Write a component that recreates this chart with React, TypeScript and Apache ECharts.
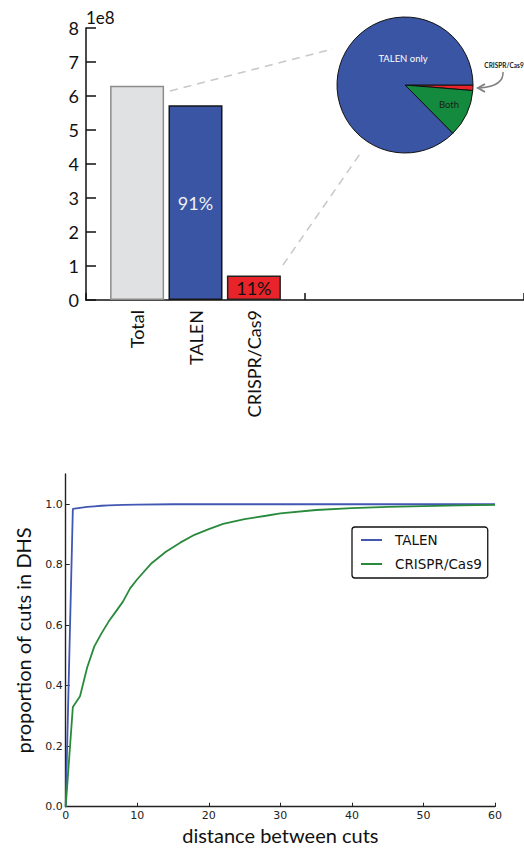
import React, { useEffect, useRef } from "react";
import * as echarts from "echarts";

// ---- top bar chart ----
const barCategories = ["Total", "TALEN", "CRISPR/Cas9"];
const barValues = [6.3e8, 5.73e8, 0.72e8];
const barLabels = ["", "91%", "11%"];
const barColors = ["#e0e1e3", "#3a55a4", "#e8242a"];
const barBorders = ["#8c8c8c", "#161616", "#222222"];
const barLabelColors = ["#111111", "#eef0f6", "#111111"];
const barSlots = [3, 7, 11];
const slotCount = 30;
const stubTickSlot = 15;

// ---- inset pie ----
const pieNames = ["CRISPR/Cas9 only", "Both", "TALEN only"];
const pieValues = [1.3, 11.3, 87.4];
const pieColors = ["#e8242a", "#138a3d", "#3a55a4"];

// ---- bottom cumulative curves ----
const talenX = [0, 1, 2, 3, 4, 5, 6, 8, 10, 15, 20, 30, 40, 50, 60];
const talenY = [0, 0.985, 0.988, 0.991, 0.993, 0.995, 0.996, 0.998, 0.999, 1, 1, 1, 1, 1, 1];
const casX = [0, 1, 2, 3, 4, 5, 6, 7, 8, 9, 10, 12, 14, 15, 16, 18, 20, 22, 25, 28, 30, 35, 40, 45, 50, 55, 60];
const casY = [0, 0.33, 0.365, 0.46, 0.53, 0.573, 0.612, 0.645, 0.678, 0.722, 0.752, 0.805, 0.843, 0.858, 0.873, 0.899, 0.918, 0.935, 0.951, 0.962, 0.97, 0.981, 0.987, 0.991, 0.994, 0.996, 0.998];

const MYRIAD = "Lato";
const MPL = "DejaVu Sans";

export default function App() {
  const ref = useRef<HTMLDivElement>(null);
  useEffect(() => {
    document.body.style.margin = "0";
    if (!ref.current) return;
    const chart = echarts.init(ref.current, undefined, { renderer: "svg" });

    const slotNames = Array.from({ length: slotCount }, (_, i) => "s" + i);
    const slotLabel: Record<string, string> = {};
    barSlots.forEach((s, i) => (slotLabel["s" + s] = barCategories[i]));
    const barData: any[] = Array.from({ length: slotCount }, () => null);
    barSlots.forEach((s, i) => {
      barData[s] = {
        value: barValues[i],
        itemStyle: { color: barColors[i], borderColor: barBorders[i], borderWidth: 1.5 },
        label: {
          show: barLabels[i] !== "",
          position: "inside",
          formatter: barLabels[i],
          fontSize: 18,
          fontFamily: MYRIAD,
          color: barLabelColors[i],
        },
      };
    });

    const option: any = {
      animation: false,
      grid: [
        { left: 86, top: 28, width: 14.875 * slotCount, height: 272 },
        { left: 65.7, top: 474, width: 429.3, height: 332.7 },
      ],
      xAxis: [
        {
          gridIndex: 0,
          type: "category",
          data: slotNames,
          boundaryGap: true,
          axisLine: { lineStyle: { color: "#111", width: 1.5 } },
          axisTick: {
            show: true,
            inside: true,
            length: 7,
            interval: (i: number) => i === 0 || i === stubTickSlot,
            lineStyle: { color: "#111", width: 1.5 },
          },
          axisLabel: {
            interval: 0,
            rotate: 90,
            margin: 10,
            fontSize: 18,
            fontFamily: MYRIAD,
            color: "#111",
            formatter: (v: string) => slotLabel[v] ?? "",
          },
          splitLine: { show: false },
        },
        {
          gridIndex: 1,
          type: "value",
          min: 0,
          max: 60,
          interval: 10,
          axisLine: { lineStyle: { color: "#222", width: 1.4 } },
          axisTick: { show: true, inside: true, length: 4, lineStyle: { color: "#222" } },
          axisLabel: { fontSize: 11, fontFamily: MPL, color: "#222", margin: 3 },
          splitLine: { show: false },
          name: "distance between cuts",
          nameLocation: "middle",
          nameGap: 18,
          nameTextStyle: { fontSize: 20, fontFamily: MYRIAD, color: "#111", verticalAlign: "top" },
        },
      ],
      yAxis: [
        {
          gridIndex: 0,
          type: "value",
          min: 0,
          max: 8e8,
          interval: 1e8,
          name: "1e8",
          nameLocation: "end",
          nameGap: 2,
          nameTextStyle: { align: "left", verticalAlign: "bottom", fontSize: 17, fontFamily: MYRIAD, color: "#111" },
          axisLine: { show: true, lineStyle: { color: "#111", width: 1.5 } },
          axisTick: { show: true, inside: true, length: 10, lineStyle: { color: "#111", width: 1.5 } },
          axisLabel: { fontSize: 18, fontFamily: MYRIAD, color: "#111", margin: 7, formatter: (v: number) => String(Math.round(v / 1e8)) },
          splitLine: { show: false },
        },
        {
          gridIndex: 1,
          type: "value",
          min: 0,
          max: 1.1,
          interval: 0.2,
          axisLine: { show: true, lineStyle: { color: "#222", width: 1.4 } },
          axisTick: { show: true, inside: true, length: 4, lineStyle: { color: "#222" } },
          axisLabel: { fontSize: 11, fontFamily: MPL, color: "#222", margin: 3, showMaxLabel: false, formatter: (v: number) => v.toFixed(1) },
          splitLine: { show: false },
          name: "proportion of cuts in DHS",
          nameLocation: "middle",
          nameGap: 33,
          nameTextStyle: { fontSize: 20, fontFamily: MYRIAD, color: "#111" },
        },
      ],
      legend: {
        data: ["TALEN", "CRISPR/Cas9"],
        orient: "vertical",
        left: 352,
        top: 527,
        icon: "rect",
        itemWidth: 21,
        itemHeight: 2,
        itemGap: 8,
        padding: [5, 6, 6, 9],
        borderColor: "#111",
        borderWidth: 1.3,
        borderRadius: 3,
        textStyle: { fontFamily: MPL, fontSize: 13.5, color: "#111", padding: [0, 0, 0, 8], lineHeight: 16 },
      },
      series: [
        {
          type: "bar",
          name: "cuts",
          xAxisIndex: 0,
          yAxisIndex: 0,
          barWidth: 54,
          data: barData,
        },
        {
          type: "pie",
          name: "inset",
          center: [405, 85],
          radius: 68,
          startAngle: 0,
          clockwise: true,
          silent: true,
          label: { show: false },
          labelLine: { show: false },
          itemStyle: { borderColor: "#111", borderWidth: 1 },
          data: pieNames.map((n, i) => ({ name: n, value: pieValues[i], itemStyle: { color: pieColors[i] } })),
        },
        {
          type: "line",
          name: "TALEN",
          xAxisIndex: 1,
          yAxisIndex: 1,
          symbol: "none",
          color: "#4257b2",
          lineStyle: { width: 1.8, color: "#4257b2" },
          data: talenX.map((x, i) => [x, talenY[i]]),
        },
        {
          type: "line",
          name: "CRISPR/Cas9",
          xAxisIndex: 1,
          yAxisIndex: 1,
          symbol: "none",
          color: "#2a8a3c",
          lineStyle: { width: 1.8, color: "#2a8a3c" },
          data: casX.map((x, i) => [x, casY[i]]),
        },
      ],
      graphic: [
        {
          type: "line",
          shape: { x1: 170, y1: 91, x2: 333, y2: 49 },
          style: { stroke: "#c8c8c8", lineWidth: 1.5, lineDash: [8, 6] },
          silent: true,
        },
        {
          type: "line",
          shape: { x1: 283, y1: 265, x2: 362, y2: 151 },
          style: { stroke: "#c8c8c8", lineWidth: 1.5, lineDash: [8, 6] },
          silent: true,
        },
        {
          type: "text",
          x: 403,
          y: 58,
          style: { text: "TALEN only", fill: "#ffffff", fontSize: 9.5, fontFamily: MYRIAD, align: "center", verticalAlign: "middle" },
          z: 100,
        },
        {
          type: "text",
          x: 449,
          y: 104,
          style: { text: "Both", fill: "#1a1a1a", fontSize: 9.5, fontFamily: MYRIAD, align: "center", verticalAlign: "middle" },
          z: 100,
        },
        {
          type: "text",
          x: 504,
          y: 65,
          style: { text: "CRISPR/Cas9", fill: "#222", fontSize: 6.5, fontWeight: "bold", fontFamily: MYRIAD, align: "center", verticalAlign: "middle" },
          z: 100,
        },
        {
          type: "bezierCurve",
          shape: { x1: 503, y1: 72, cpx1: 504, cpy1: 86, x2: 480, y2: 88 },
          style: { stroke: "#808080", lineWidth: 1.5, fill: "none" },
          silent: true,
        },
        {
          type: "polyline",
          shape: { points: [[485, 84], [478, 88], [485, 92]] },
          style: { stroke: "#808080", lineWidth: 2, fill: "none" },
          silent: true,
        },
      ],
    };
    chart.setOption(option);
    return () => chart.dispose();
  }, []);
  return <div ref={ref} style={{ width: 524, height: 851 }} />;
}
